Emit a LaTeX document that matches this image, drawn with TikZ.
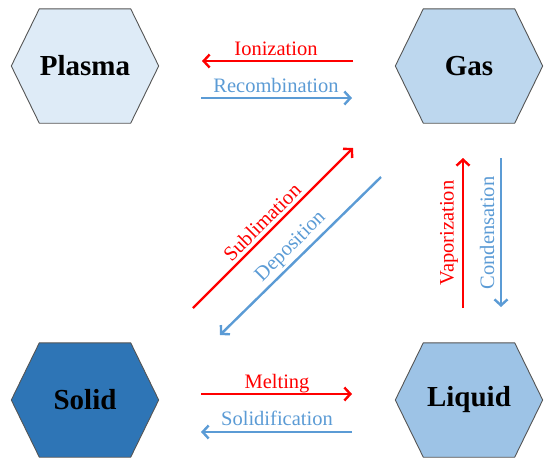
\documentclass[tikz,border=0pt]{standalone}
\usepackage{fontspec}
\setmainfont{Liberation Serif}
\usetikzlibrary{arrows.meta,backgrounds,calc}
\definecolor{cred}{RGB}{255,0,0}
\definecolor{cblue}{RGB}{91,155,213}
\definecolor{hexline}{RGB}{85,85,85}
\definecolor{fplasma}{RGB}{222,235,247}
\definecolor{fgas}{RGB}{189,215,238}
\definecolor{fsolid}{RGB}{46,117,182}
\definecolor{fliquid}{RGB}{157,195,230}
\newcommand\drawhex[2]{%
  \filldraw[fill=#2, draw=hexline, line width=0.9pt, line join=round]
    (#1.west) -- ([xshift=28pt]#1.north west) -- ([xshift=-28pt]#1.north east)
    -- (#1.east) -- ([xshift=-28pt]#1.south east) -- ([xshift=28pt]#1.south west) -- cycle;}
\begin{document}
\begin{tikzpicture}[x=1pt,y=-1pt,
  phase/.style={minimum width=147pt,minimum height=114pt,inner sep=0pt,
    font=\fontsize{29}{34}\selectfont\bfseries},
  lbl/.style={font=\fontsize{20.5}{24}\selectfont, inner sep=0pt},
  redlbl/.style={lbl, text=cred},
  bluelbl/.style={lbl, text=cblue},
  redarr/.style={draw=cred, line width=2.4pt, -{Straight Barb[length=6pt,width=13pt]}},
  bluearr/.style={draw=cblue, line width=2.4pt, -{Straight Barb[length=6pt,width=13pt]}}]
\useasboundingbox (0,0) rectangle (550,467);

% phases
\node[phase] (plasma) at (85,66) {Plasma};
\node[phase] (gas) at (469,66) {Gas};
\node[phase] (solid) at (85,400) {Solid};
\node[phase] (liquid) at (469,400) {Liquid};
\begin{scope}[on background layer]
  \drawhex{plasma}{fplasma}
  \drawhex{gas}{fgas}
  \drawhex{solid}{fsolid}
  \drawhex{liquid}{fliquid}
\end{scope}

% arrow end points
\coordinate (ionA) at (353,61);  \coordinate (ionB) at (202,61);
\coordinate (recA) at (201,98);  \coordinate (recB) at (352,98);
\coordinate (subA) at (193,308); \coordinate (subB) at (353,148);
\coordinate (depA) at (381,177); \coordinate (depB) at (220,335);
\coordinate (vapA) at (463,308); \coordinate (vapB) at (463,158);
\coordinate (conA) at (501,158); \coordinate (conB) at (501,307);
\coordinate (melA) at (201,394); \coordinate (melB) at (352,394);
\coordinate (solA) at (352,432); \coordinate (solB) at (201,432);

\draw[redarr] (ionA) -- (ionB);
\draw[bluearr] (recA) -- (recB);
\draw[redarr] (subA) -- (subB);
\draw[bluearr] (depA) -- (depB);
\draw[redarr] (vapA) -- (vapB);
\draw[bluearr] (conA) -- (conB);
\draw[redarr] (melA) -- (melB);
\draw[bluearr] (solA) -- (solB);

% labels
\node[redlbl, anchor=base] (lion) at (276,55) {Ionization};
\node[bluelbl, anchor=base] (lrec) at (276,92) {Recombination};
\node[redlbl, rotate=45] (lsub) at (262,222) {Sublimation};
\node[bluelbl, rotate=45] (ldep) at (291,247) {Deposition};
\node[redlbl, rotate=90] (lvap) at (449,233) {Vaporization};
\node[bluelbl, rotate=90] (lcon) at (487,233) {Condensation};
\node[redlbl, anchor=base] (lmel) at (277,388) {Melting};
\node[bluelbl, anchor=base] (lsol) at (277,425) {Solidification};
\end{tikzpicture}
\end{document}
